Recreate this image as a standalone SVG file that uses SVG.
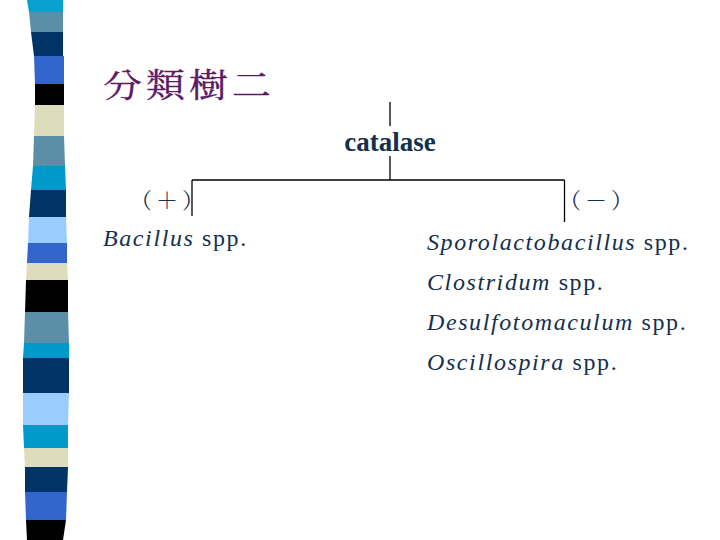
<svg xmlns="http://www.w3.org/2000/svg" width="720" height="540" viewBox="0 0 720 540">
<style>
.t{font-family:"Liberation Serif","Times New Roman",serif;fill:#14304f}
.s{font-size:24px;letter-spacing:1.6px}
.i{font-style:italic}
.cj{font-family:"Noto Serif CJK TC","Noto Sans CJK TC","Noto Sans CJK SC",serif;fill:#14304f;font-size:22px;letter-spacing:4px}
.ln{stroke:#000;stroke-width:1.3;fill:none}
</style>
<rect width="720" height="540" fill="#fff"/>
<g id="strip">
<polygon points="27,0 63,0 63,12 29,12" fill="#0aa0d0"/>
<polygon points="29,12 63,12 63,32 31,32" fill="#5b8fa8"/>
<polygon points="31,32 63,32 63,56 34,56" fill="#003366"/>
<polygon points="34,56 64,56 64,84 35,84" fill="#3366cc"/>
<polygon points="35,84 64,84 64,105 35,105" fill="#000"/>
<polygon points="35,105 64,105 64,136 34,136" fill="#ddddbb"/>
<polygon points="34,136 64,136 65,166 33,166" fill="#5b8fa8"/>
<polygon points="33,166 65,166 66,190 31,190" fill="#0099cc"/>
<polygon points="31,190 66,190 66,217 29,217" fill="#003366"/>
<polygon points="29,217 66,217 67,243 28,243" fill="#99ccff"/>
<polygon points="28,243 67,243 67,263 27,263" fill="#3366cc"/>
<polygon points="27,263 67,263 68,280 26,280" fill="#ddddbb"/>
<polygon points="26,280 68,280 68,312 25,312" fill="#000"/>
<polygon points="25,312 68,312 69,343 24,343" fill="#5b8fa8"/>
<polygon points="24,343 69,343 69,358 23,358" fill="#0099cc"/>
<polygon points="23,358 69,358 69,393 23,393" fill="#003366"/>
<polygon points="23,393 69,393 68,425 23,425" fill="#99ccff"/>
<polygon points="23,425 68,425 68,448 24,448" fill="#0099cc"/>
<polygon points="24,448 68,448 68,467 25,467" fill="#ddddbb"/>
<polygon points="25,467 68,467 67,492 25,492" fill="#003366"/>
<polygon points="25,492 67,492 66,520 26,520" fill="#3366cc"/>
<polygon points="26,520 66,520 63,540 27,540" fill="#000"/>
</g>
<g id="title">
<text transform="translate(103,97) scale(1,0.85)" font-family="'Noto Serif CJK TC','Noto Sans CJK TC',serif" font-size="39" letter-spacing="4" fill="#5c1a66" stroke="#5c1a66" stroke-width="0.4">分類樹二</text>
</g>
<g id="connectors">
<line class="ln" x1="390" y1="102" x2="390" y2="126"/>
<line class="ln" x1="390" y1="156" x2="390" y2="180"/>
<line class="ln" x1="192" y1="180" x2="564.5" y2="180"/>
<line class="ln" x1="192" y1="180" x2="192" y2="216"/>
<line class="ln" x1="564.5" y1="180" x2="564.5" y2="222"/>
</g>
<g id="root">
<text class="t" x="390" y="151" font-size="27" font-weight="bold" text-anchor="middle">catalase</text>
</g>
<g id="plus">
<text class="cj" x="130" y="208">（＋）</text>
<text class="t s" x="103" y="246"><tspan class="i">Bacillus</tspan> spp.</text>
</g>
<g id="minus">
<text class="cj" x="559" y="208">（－）</text>
<text class="t s" x="427" y="250"><tspan class="i">Sporolactobacillus</tspan> spp.</text>
<text class="t s" x="427" y="290"><tspan class="i">Clostridum</tspan> spp.</text>
<text class="t s" x="427" y="330"><tspan class="i">Desulfotomaculum</tspan> spp.</text>
<text class="t s" x="427" y="370"><tspan class="i">Oscillospira</tspan> spp.</text>
</g>
</svg>
